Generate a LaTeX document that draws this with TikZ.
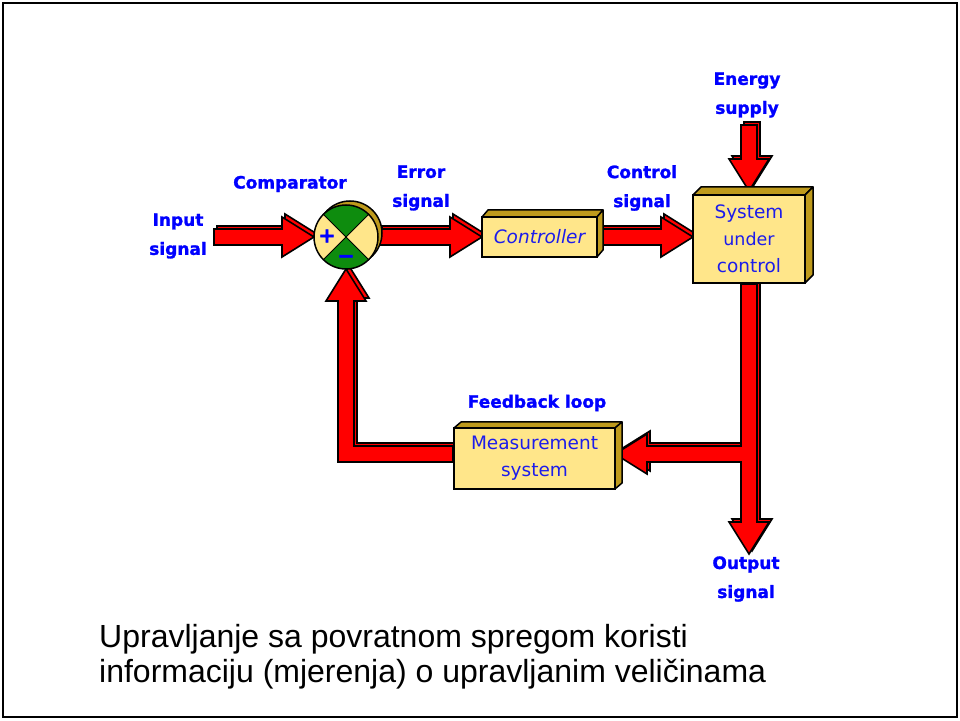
\documentclass[tikz,border=0pt]{standalone}
\usepackage{fontspec}
\usetikzlibrary{calc}
\newfontfamily\djv{DejaVu Sans}
\newfontfamily\heavy[BoldFeatures={FakeBold=1.4}]{DejaVu Sans}
\newfontfamily\lib{Liberation Sans}
\definecolor{boxfill}{HTML}{FFE68A}
\definecolor{facegold}{HTML}{BE9A1C}
\definecolor{cmpgreen}{HTML}{0E8C0E}
\definecolor{lblblue}{HTML}{0000FF}
\definecolor{txtblue}{HTML}{1C1CEB}
\pgfdeclarelayer{background}
\pgfsetlayers{background,main}

\tikzset{
  shaftout/.style={line width=18pt, black, line join=miter},
  shaftin/.style={line width=14pt, red, line join=miter, shorten <=1.6pt},
  headst/.style={fill=red, draw=black, line width=1.6pt, line join=miter},
  blockbox/.style={draw, fill=boxfill, line width=1.5pt, outer sep=0pt, inner sep=0pt,
    text=txtblue, font=\djv\fontsize{18.5}{27}\selectfont, align=center},
  face/.style={fill=facegold, draw=black, line width=1.5pt, line join=round},
  lbl/.style={text=lblblue, font=\heavy\bfseries\fontsize{17}{29}\selectfont, align=center, inner sep=0pt},
  sign/.style={text=lblblue, font=\heavy\bfseries\fontsize{21}{22}\selectfont, inner sep=0pt},
}

% one block arrow: shaft along #1, head from #2 towards the tip #3
\newcommand\fatbody[3]{%
  \coordinate (hb) at ($(#3)!32pt!(#2)$);
  \coordinate (hc) at ($(#3)!29pt!(#2)$);
  \draw[shaftout] #1 -- (hb);
  \filldraw[headst] ($(hb)!20pt!90:(#3)$) -- (#3) -- ($(hb)!20pt!-90:(#3)$) -- cycle;
  \draw[shaftin] #1 -- (hc);
}
% block arrow with its extruded copy behind it
\newcommand\fatarrow[3]{%
  \begin{scope}[transform canvas={shift={(3pt,3pt)}}]\fatbody{#1}{#2}{#3}\end{scope}
  \fatbody{#1}{#2}{#3}%
}
% top and right faces of a raised box
\newcommand\extrude[3]{%
  \filldraw[face] (#1.north west) -- ++(#2,#3) -- ($(#1.north east)+(#2,#3)$) -- (#1.north east) -- cycle;
  \filldraw[face] (#1.north east) -- ++(#2,#3) -- ($(#1.south east)+(#2,#3)$) -- (#1.south east) -- cycle;
}

\begin{document}
\begin{tikzpicture}[x=1pt,y=1pt]
\useasboundingbox (0,0) rectangle (960,720);
\draw[line width=2.5pt] (3,3) rectangle (957,717);

% comparator
\filldraw[fill=facegold, draw=black, line width=1.5pt] (350,487) circle[radius=32];
\node[circle, fill=boxfill, minimum size=64pt, inner sep=0pt, outer sep=0pt] (cmp) at (346,483) {};
\fill[cmpgreen] (cmp.center) -- ++(45:32) arc[start angle=45, end angle=135, radius=32] -- cycle;
\fill[cmpgreen] (cmp.center) -- ++(225:32) arc[start angle=225, end angle=315, radius=32] -- cycle;
\draw[line width=1pt] ($(cmp.center)+(45:32)$) -- ($(cmp.center)+(225:32)$);
\draw[line width=1pt] ($(cmp.center)+(135:32)$) -- ($(cmp.center)+(315:32)$);
\draw[line width=1.5pt] (cmp.center) circle[radius=32];
\node[sign] (plus) at (327,484) {+};
\node[sign] (minus) at (346,461) {−};

% blocks
\node[blockbox, minimum width=115pt, minimum height=40pt] (ctrl) at (539.5,483) {\itshape Controller};
\node[blockbox, minimum width=112pt, minimum height=88pt] (sys) at (749,481)
  {System\\{\fontsize{17.5}{27.5}\selectfont under}\\control};
\node[blockbox, minimum width=161pt, minimum height=61pt] (meas) at (534.5,261.5)
  {\fontsize{18.5}{30}\selectfont Measurement\\system};

% free ends of the signal paths
\coordinate (in) at (213,483);
\coordinate (en) at (749,596);
\coordinate (out) at (749,166);
\coordinate (br) at (749,266);

\begin{pgfonlayer}{background}
  \fatarrow{(in)}{in}{cmp.west}
  \fatarrow{(cmp.east)}{cmp.east}{ctrl.west}
  \coordinate (sysin) at (sys.west |- ctrl.east);
  \fatarrow{(ctrl.east)}{ctrl.east}{sysin}
  \coordinate (syst) at ($(sys.north)+(0,4)$);
  \fatarrow{(en)}{en}{syst}
  \coordinate (mside) at (br -| meas.east);
  \fatarrow{(br)}{br}{mside}
  \fatarrow{(sys.south)}{sys.south}{out}
  \fill[red] ($(br)+(-10,-7)$) rectangle ($(br)+(-5,7)$);
  \coordinate (fbc) at (cmp.south |- br);
  \coordinate (fbs) at (meas.west |- br);
  \fatarrow{(fbs) -- (fbc)}{fbc}{cmp.south}
\end{pgfonlayer}

\extrude{ctrl}{6}{7}
\extrude{sys}{8}{8}
\extrude{meas}{7}{6}

% signal labels
\node[lbl] (l-in) at (178,484) {Input\\signal};
\node[lbl] (l-cmp) at (290,536) {Comparator};
\node[lbl] (l-err) at (421,532) {Error\\signal};
\node[lbl] (l-ctl) at (642,532) {Control\\signal};
\node[lbl] (l-en) at (747,625) {Energy\\supply};
\node[lbl] (l-fb) at (537,317) {Feedback loop};
\node[lbl] (l-out) at (746,141) {Output\\signal};

% caption
\node[anchor=base west, inner sep=0pt, font=\lib\fontsize{32}{35}\selectfont] (cap1) at (99,73)
  {Upravljanje sa povratnom spregom koristi};
\node[anchor=base west, inner sep=0pt, font=\lib\fontsize{32}{35}\selectfont] (cap2) at (99,38)
  {informaciju (mjerenja) o upravljanim veličinama};
\end{tikzpicture}
\end{document}
